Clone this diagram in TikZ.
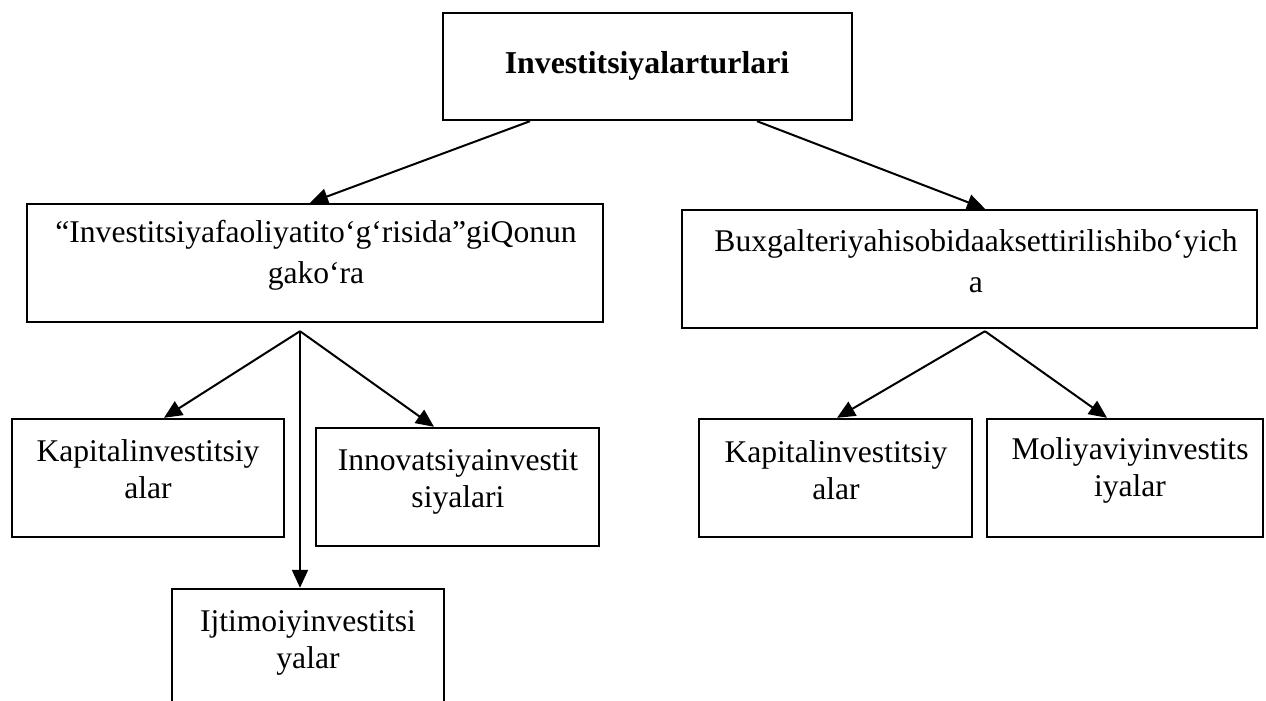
\documentclass[tikz,border=0pt]{standalone}
\usepackage{fontspec}
\setmainfont{Liberation Serif}
\usetikzlibrary{arrows.meta}
\begin{document}
\begin{tikzpicture}[x=1pt,y=-1pt,
  box/.style={draw, line width=2.4pt, inner sep=0pt},
  txt/.style={align=center, inner sep=0pt, font=\fontsize{31.6}{37}\selectfont},
  midtxt/.style={align=center, inner sep=0pt, font=\fontsize{31.6}{41}\selectfont},
  headtxt/.style={align=center, inner sep=0pt, font=\fontsize{31.8}{38}\selectfont\bfseries},
  arr/.style={line width=2pt, -{Triangle[length=18pt,width=16pt]}}]
% canvas
\fill[white] (0,0) rectangle (1266,701);
\useasboundingbox (0,0) rectangle (1266,701);
\clip (0,0) rectangle (1266,701);

% root
\node[box, minimum width=409pt, minimum height=107pt] (top) at (647.5,66.5) {};
\node[headtxt] (toptext) at (647,66) {Investitsiyalarturlari};

% second level
\node[box, minimum width=576pt, minimum height=118pt] (lmid) at (315,263) {};
\node[midtxt] (lmidtext) at (316,255) {“Investitsiyafaoliyatito‘g‘risida”giQonun\\gako‘ra};
\node[box, minimum width=575pt, minimum height=118pt] (rmid) at (969.5,269) {};
\node[midtxt] (rmidtext) at (976,261) {Buxgalteriyahisobidaaksettirilishibo‘yich\\a};

% third level, left branch
\node[box, minimum width=272pt, minimum height=118pt] (kap1) at (148,478) {};
\node[txt] (kap1text) at (148,469) {Kapitalinvestitsiy\\alar};
\node[box, minimum width=283pt, minimum height=118pt] (inn) at (457.5,487) {};
\node[txt] (inntext) at (458,482) {Innovatsiyainvestit\\siyalari};
\node[box, minimum width=272pt, minimum height=130pt] (ijt) at (308,654) {};
\node[txt] (ijttext) at (308,643) {Ijtimoiyinvestitsi\\yalar};

% third level, right branch
\node[box, minimum width=273pt, minimum height=118pt] (kap2) at (835.5,478) {};
\node[txt] (kap2text) at (836,470) {Kapitalinvestitsiy\\alar};
\node[box, minimum width=276pt, minimum height=118pt] (mol) at (1125,478) {};
\node[txt] (moltext) at (1130,470) {Moliyaviyinvestits\\iyalar};

% branching points under the second-level boxes
\coordinate (lfork) at ([xshift=-15pt,yshift=-8pt]lmid.south);
\coordinate (rfork) at ([xshift=15.5pt,yshift=-2pt]rmid.south);

% connectors
\draw[arr] ([xshift=-117.5pt]top.south) -- ([xshift=-5pt]lmid.north);
\draw[arr] ([xshift=109.5pt]top.south) -- ([xshift=15.5pt]rmid.north);

\draw[arr] (lfork) -- ([xshift=16pt]kap1.north);
\draw[arr] (lfork) -- ([xshift=-23.5pt]inn.north);
\draw[arr] (lfork) -- ([xshift=-8pt]ijt.north);

\draw[arr] (rfork) -- ([xshift=1.5pt]kap2.north);
\draw[arr] (rfork) -- ([xshift=-18pt]mol.north);
\end{tikzpicture}
\end{document}
